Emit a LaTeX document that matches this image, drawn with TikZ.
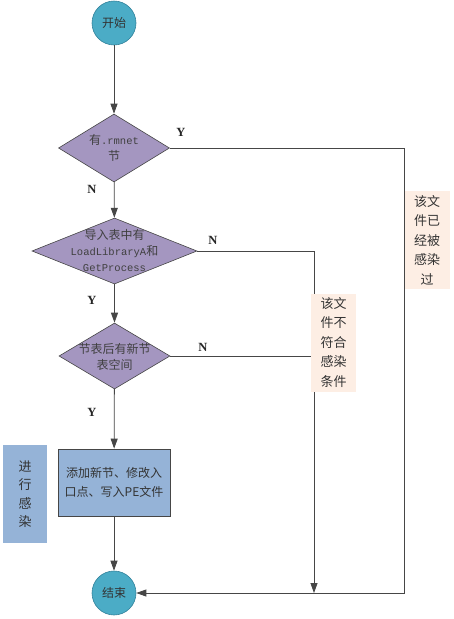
\documentclass[tikz,border=0pt]{standalone}
\usepackage{fontspec}
\setmainfont{Noto Sans CJK SC}
\newfontfamily\cjk{Noto Sans CJK SC}
\newfontfamily\lmono{Liberation Mono}
\newfontfamily\yn{Liberation Serif}
\usetikzlibrary{shapes.geometric,arrows.meta}
\definecolor{teal1}{RGB}{75,172,198}
\definecolor{teal2}{RGB}{50,130,155}
\definecolor{purp}{RGB}{164,150,192}
\definecolor{bluebox}{RGB}{149,179,215}
\definecolor{peach}{RGB}{253,238,228}
\definecolor{linec}{RGB}{70,70,70}
\tikzset{
  x=1pt,y=-1pt,
  term/.style={circle,draw=teal2,fill=teal1,line width=0.6pt,minimum size=44pt,inner sep=0pt,font=\cjk\fontsize{12}{14}\selectfont,text=black!80},
  dia/.style={diamond,draw=linec,fill=purp,line width=0.6pt,inner sep=0pt},
  dtext/.style={align=center,font=\cjk\fontsize{12}{16}\selectfont,text=black!75},
  procbox/.style={rectangle,draw=linec,fill=bluebox,line width=0.8pt,minimum width=112pt,minimum height=67pt,align=center,font=\cjk\fontsize{12}{19}\selectfont,text=black!80},
  notebox/.style={rectangle,fill=peach,minimum width=45pt,minimum height=98pt,inner sep=0pt,align=center,font=\cjk\fontsize{13}{19.5}\selectfont,text=black!80},
  sidebox/.style={rectangle,fill=bluebox,minimum width=44pt,minimum height=98pt,inner sep=0pt,align=center,font=\cjk\fontsize{13}{18.5}\selectfont,text=black!80},
  conn/.style={draw=linec,line width=0.8pt},
  arr/.style={conn,-{Triangle[length=10pt,width=7pt]}},
  ynlab/.style={font=\yn\bfseries\fontsize{12.5}{13}\selectfont,text=black!85},
}
\begin{document}
\begin{tikzpicture}
\useasboundingbox (0,0) rectangle (453,619);
\fill[white] (0,0) rectangle (453,619);

% nodes
\node[term] (s) at (114,23) {开始};
\node[dia,minimum width=111pt,minimum height=68pt] (d1) at (114,148) {};
\node[dtext] (t1) at (d1) {有{\lmono\fontsize{10.5}{16}\selectfont .rmnet}\\节};
\node[dia,minimum width=165pt,minimum height=66pt] (d2) at (114.5,251) {};
\node[dtext] (t2) at (d2) {导入表中有\\{\lmono\fontsize{10.5}{16}\selectfont LoadLibraryA}和\\{\lmono\fontsize{10.5}{16}\selectfont GetProcess}};
\node[dia,minimum width=111pt,minimum height=66pt] (d3) at (114.5,356) {};
\node[dtext] (t3) at ([yshift=-1pt]d3) {节表后有新节\\表空间};
\node[procbox] (p) at (114,482.5) {添加新节、修改入\\口点、写入PE文件};
\node[term] (e) at (114,593) {结束};

% connectors
\coordinate (c1) at (404,148);
\coordinate (c2) at (404,593);
\coordinate (c3) at (314,251);
\coordinate (c4) at (314,593);
\draw[arr] (s) -- (d1);
\draw[arr] (d1) -- (d2);
\draw[arr] (d2) -- (d3);
\draw[arr] (d3) -- (p);
\draw[arr] (p) -- (e);
\draw[arr] (d1.east) -- (c1) -- (c2) -- (e);
\draw[arr] (d2.east) -- (c3) -- (c4);
\draw[conn] (d3.east) -- (d3.east -| c3);

% side notes
\node[notebox] (n1) at (427,240) {该文\\件已\\经被\\感染\\过};
\node[notebox] (n2) at (333.5,342.5) {该文\\件不\\符合\\感染\\条件};
\node[sidebox] (n3) at (25,494) {进\\行\\感\\染};

% Y/N labels
\node[ynlab] (y1) at (181,132) {Y};
\node[ynlab] (n1l) at (92,189) {N};
\node[ynlab] (n2l) at (213,240) {N};
\node[ynlab] (y2) at (92,300) {Y};
\node[ynlab] (n3l) at (203,347) {N};
\node[ynlab] (y3) at (92,412) {Y};
\end{tikzpicture}
\end{document}
